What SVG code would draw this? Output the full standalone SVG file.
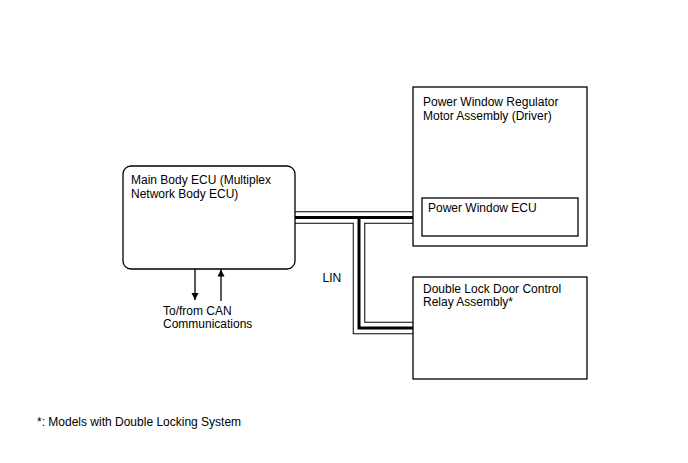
<svg xmlns="http://www.w3.org/2000/svg" width="688" height="463" viewBox="0 0 688 463">
<defs>
<style>
text{font-family:"Liberation Sans",Arial,sans-serif;font-size:12px;fill:#000}
.box{fill:#fff;stroke:#000;stroke-width:1.3}
.bo{fill:none;stroke:#000;stroke-width:12.5;stroke-linejoin:miter}
.bw{fill:none;stroke:#fff;stroke-width:10.5;stroke-linejoin:miter}
.bc{fill:none;stroke:#000;stroke-width:3;stroke-linejoin:miter}
.ar{stroke:#000;stroke-width:1.3;fill:none}
</style>
<marker id="ah" viewBox="0 0 10 10" refX="10" refY="5" markerWidth="7" markerHeight="10" markerUnits="userSpaceOnUse" orient="auto">
<path d="M0,0 L10,5 L0,10 z" fill="#000"/>
</marker>
</defs>
<rect width="688" height="463" fill="#fff"/>
<g id="connectors">
<path class="bo" d="M295,217.5 H413 M359,217.5 V328 H413"/>
<path class="bw" d="M294,217.5 H413 M359,217.5 V328 H413"/>
<path class="bc" d="M294,217.5 H413 M359,217.5 V328 H413"/>
<line class="ar" x1="195" y1="269" x2="195" y2="300" marker-end="url(#ah)"/>
<line class="ar" x1="221" y1="301" x2="221" y2="269.5" marker-end="url(#ah)"/>
<text x="322.5" y="282">LIN</text>
<text x="163" y="315">To/from CAN</text>
<text x="163" y="328">Communications</text>
</g>
<g id="main-body-ecu">
<rect class="box" x="123" y="166" width="172" height="103" rx="8"/>
<text x="131" y="184">Main Body ECU (Multiplex</text>
<text x="131" y="197.5">Network Body ECU)</text>
</g>
<g id="power-window-regulator">
<rect class="box" x="413" y="87" width="174" height="159"/>
<text x="423" y="106">Power Window Regulator</text>
<text x="423" y="119.5">Motor Assembly (Driver)</text>
</g>
<g id="power-window-ecu">
<rect class="box" x="422" y="198" width="156" height="38"/>
<text x="428" y="212">Power Window ECU</text>
</g>
<g id="double-lock-relay">
<rect class="box" x="413" y="277" width="174" height="102"/>
<text x="423" y="292.5">Double Lock Door Control</text>
<text x="423" y="306">Relay Assembly*</text>
</g>
<text x="37" y="426">*: Models with Double Locking System</text>
</svg>
